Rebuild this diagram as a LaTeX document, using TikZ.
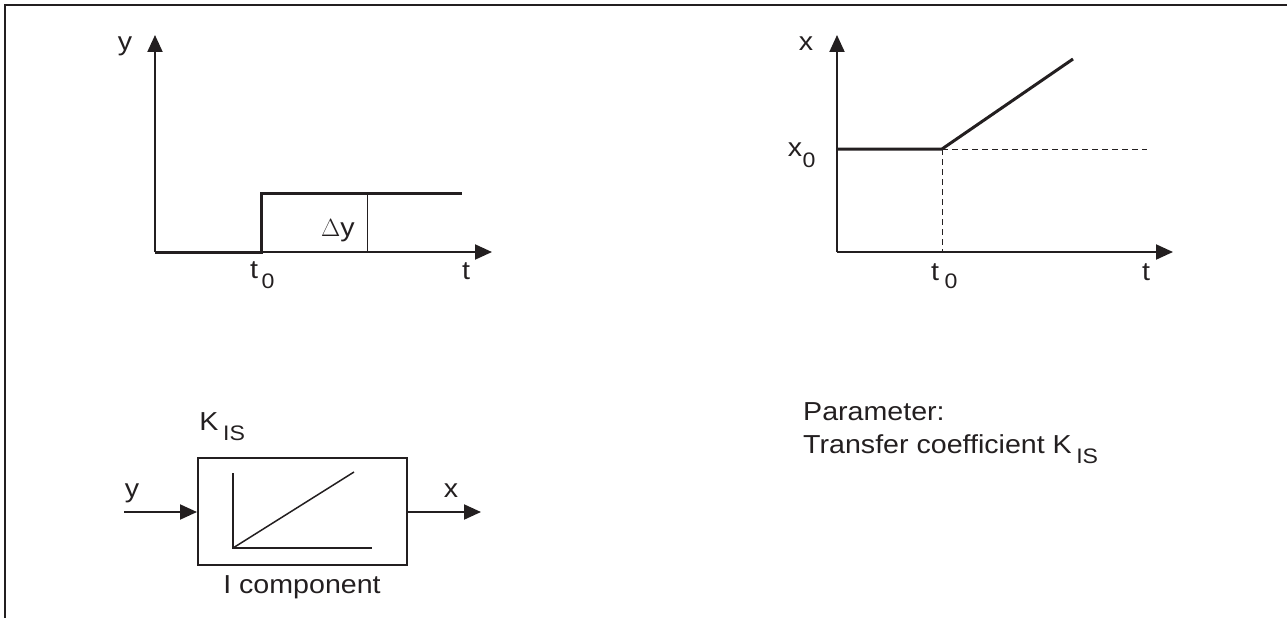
\documentclass[tikz,border=0pt]{standalone}
\usepackage{fontspec}
\setmainfont[FakeStretch=1.1]{Liberation Sans}
\usetikzlibrary{arrows.meta}
\definecolor{ink}{RGB}{35,31,32}
\begin{document}
\begin{tikzpicture}[x=1pt,y=-1pt,color=ink,
  axisarrow/.style={line width=2pt,-{Triangle[length=17pt,width=15pt]}},
  sigline/.style={line width=3pt,line join=miter},
  thinline/.style={line width=1pt},
  dashline/.style={line width=1pt,dash pattern=on 6pt off 4pt},
  lbl/.style={inner sep=0pt,anchor=base,text=ink,font=\fontsize{26}{33}\selectfont},
  sublbl/.style={inner sep=0pt,anchor=base,text=ink,font=\fontsize{21}{24}\selectfont},
]
\useasboundingbox (0,0) rectangle (1287,618);
% frame
\coordinate (fb) at (5,618);
\coordinate (fc) at (5,5);
\coordinate (fr) at (1287,5);
\draw[line width=2.5pt] (fb) -- (fc) -- (fr);

% ---------- top-left plot ----------
\coordinate (o1) at (155,252);
\coordinate (y1) at (155,35);
\coordinate (t1) at (492,252);
\coordinate (s1a) at (261,252);
\coordinate (s1b) at (261,193);
\coordinate (s1c) at (462,193);
\coordinate (d1a) at (367,193);
\coordinate (d1b) at (367,252);
\draw[axisarrow] (o1) -- (y1);
\draw[axisarrow] (o1) -- (t1);
\draw[sigline] (o1) -- (s1a) -- (s1b) -- (s1c);
\draw[thinline] (d1a) -- (d1b);
\node[lbl] (ly1) at (125,51) {y};
\node[lbl] (ldy) at (338,236) {$\Delta$y};
\node[lbl] (lt01) at (254,278) {t};
\node[sublbl] (lt01s) at (268,288) {0};
\node[lbl] (lt1) at (466,279) {t};

% ---------- top-right plot ----------
\coordinate (o2) at (837,252);
\coordinate (y2) at (837,35);
\coordinate (t2) at (1173,252);
\coordinate (x0a) at (837,149);
\coordinate (x0b) at (942,149);
\coordinate (x0c) at (1073,59);
\coordinate (x0d) at (1147,149);
\coordinate (t0b) at (942,252);
\draw[axisarrow] (o2) -- (y2);
\draw[axisarrow] (o2) -- (t2);
\draw[dashline] (x0b) -- (x0d);
\draw[dashline] (x0b) -- (t0b);
\draw[sigline] (x0a) -- (x0b) -- (x0c);
\node[lbl] (lx2) at (806,51) {x};
\node[lbl] (lx0) at (795,156) {x};
\node[sublbl] (lx0s) at (809,167) {0};
\node[lbl] (lt02) at (935,280) {t};
\node[sublbl] (lt02s) at (951,288) {0};
\node[lbl] (lt2) at (1146,280) {t};

% ---------- block ----------
\node[draw=ink,line width=2pt,minimum width=209pt,minimum height=107pt,inner sep=0pt] (blk) at (302.5,511.5) {};
\coordinate (ia) at (233,473);
\coordinate (ib) at (233,548);
\coordinate (ic) at (372,548);
\coordinate (id) at (354,472);
\draw[line width=2pt] (ia) -- (ib) -- (ic);
\draw[line width=1.5pt] (ib) -- (id);
\coordinate (in) at (124,512);
\coordinate (out) at (481,512);
\draw[axisarrow] (in) -- (blk.west |- in);
\draw[axisarrow] (blk.east |- out) -- (out);
\node[lbl] (lyin) at (132,497) {y};
\node[lbl] (lxout) at (451,497) {x};
\node[lbl] (lk) at (209,430) {K};
\node[sublbl] (lks) at (234,440) {IS};
\node[lbl] (lcomp) at (302,593) {I component};

% ---------- parameter text ----------
\node[lbl,anchor=base west] (lpar) at (803,420) {Parameter:};
\node[lbl,anchor=base west] (ltc) at (803,453) {Transfer coefficient K};
\node[sublbl,anchor=base west] (ltcs) at ([xshift=4pt,yshift=-10pt]ltc.base east) {IS};
\end{tikzpicture}
\end{document}
